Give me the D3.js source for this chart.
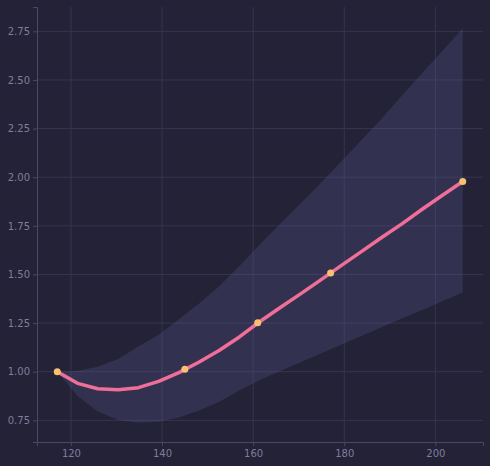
<!DOCTYPE html>
<html>
<head>
<meta charset="utf-8">
<script src="https://cdn.jsdelivr.net/npm/d3@7"></script>
<style>
  html, body { margin: 0; padding: 0; background: #232236; }
  svg { display: block; }
  .axis text { fill: #807d9c; font-family: "DejaVu Sans", sans-serif; font-size: 10px; }
  .axis path, .axis line { stroke: #4a4866; }
</style>
</head>
<body>
<div id="chart"></div>
<script>
// fitted curve, sampled along x
const xs    = [117, 121.45, 125.9, 130.35, 134.8, 139.25, 143.7, 148.15, 152.6, 157.05, 161.5,
               165.95, 170.4, 174.85, 179.3, 183.75, 188.2, 192.65, 197.1, 201.55, 206]
const mean  = [1.0, 0.94, 0.912, 0.907, 0.918, 0.95, 0.995, 1.05, 1.11, 1.18, 1.258,
               1.33, 1.40, 1.472, 1.545, 1.617, 1.69, 1.76, 1.835, 1.907, 1.978]
const lower = [1.0, 0.875, 0.795, 0.752, 0.737, 0.742, 0.765, 0.80, 0.845, 0.905, 0.957,
               1.003, 1.048, 1.093, 1.138, 1.183, 1.228, 1.273, 1.317, 1.362, 1.407]
const upper = [1.0, 1.005, 1.025, 1.065, 1.13, 1.19, 1.27, 1.35, 1.44, 1.545, 1.655,
               1.76, 1.865, 1.97, 2.08, 2.19, 2.30, 2.42, 2.535, 2.65, 2.765]

// observed points
const obsX = [117, 145, 161, 177, 206]
const obsY = [1.0, 1.012, 1.251, 1.508, 1.978]

const xTicks = [120, 140, 160, 180, 200]
const yTicks = [0.75, 1.0, 1.25, 1.5, 1.75, 2.0, 2.25, 2.5, 2.75]

var width = 490, height = 466
var margin = {top: 7, right: 7, bottom: 24, left: 37}

const svg = d3.select('#chart').append('svg')
  .attr('width', width)
  .attr('height', height)

svg.append('rect').attr('width', width).attr('height', height).attr('fill', '#232236')

const x = d3.scaleLinear().domain([112.55, 210.45]).range([margin.left, width - margin.right])
const y = d3.scaleLinear().domain([0.6385, 2.875]).range([height - margin.bottom, margin.top])

// grid
const grid = svg.append('g')
grid.selectAll('.gx').data(xTicks).join('line')
  .attr('x1', d => x(d)).attr('x2', d => x(d))
  .attr('y1', margin.top).attr('y2', height - margin.bottom)
  .attr('stroke', '#37354f').attr('stroke-width', 1)
grid.selectAll('.gy').data(yTicks).join('line')
  .attr('y1', d => y(d)).attr('y2', d => y(d))
  .attr('x1', margin.left).attr('x2', width - margin.right)
  .attr('stroke', '#37354f').attr('stroke-width', 1)

const rows = xs.map((d, i) => ({x: d, m: mean[i], lo: lower[i], hi: upper[i]}))

// confidence band
svg.append('path')
  .datum(rows)
  .attr('fill', '#5a5590')
  .attr('fill-opacity', 0.3)
  .attr('d', d3.area().x(d => x(d.x)).y0(d => y(d.lo)).y1(d => y(d.hi)))

// fitted line
svg.append('path')
  .datum(rows)
  .attr('fill', 'none')
  .attr('stroke', '#ef6f98')
  .attr('stroke-width', 3.5)
  .attr('stroke-linejoin', 'round')
  .attr('d', d3.line().x(d => x(d.x)).y(d => y(d.m)))

// points
svg.append('g').selectAll('circle')
  .data(obsX.map((d, i) => [d, obsY[i]]))
  .join('circle')
    .attr('cx', d => x(d[0]))
    .attr('cy', d => y(d[1]))
    .attr('r', 3.5)
    .attr('fill', '#f8c170')

// axes
svg.append('g').attr('class', 'axis')
  .attr('transform', `translate(0,${height - margin.bottom})`)
  .call(d3.axisBottom(x).tickValues(xTicks).tickSizeOuter(0).tickSize(4).tickPadding(4))

svg.append('g').attr('class', 'axis')
  .attr('transform', `translate(${margin.left},0)`)
  .call(d3.axisLeft(y).tickValues(yTicks).tickFormat(d3.format('.2f')).tickSizeOuter(0).tickSize(4).tickPadding(3))
</script>
</body>
</html>
